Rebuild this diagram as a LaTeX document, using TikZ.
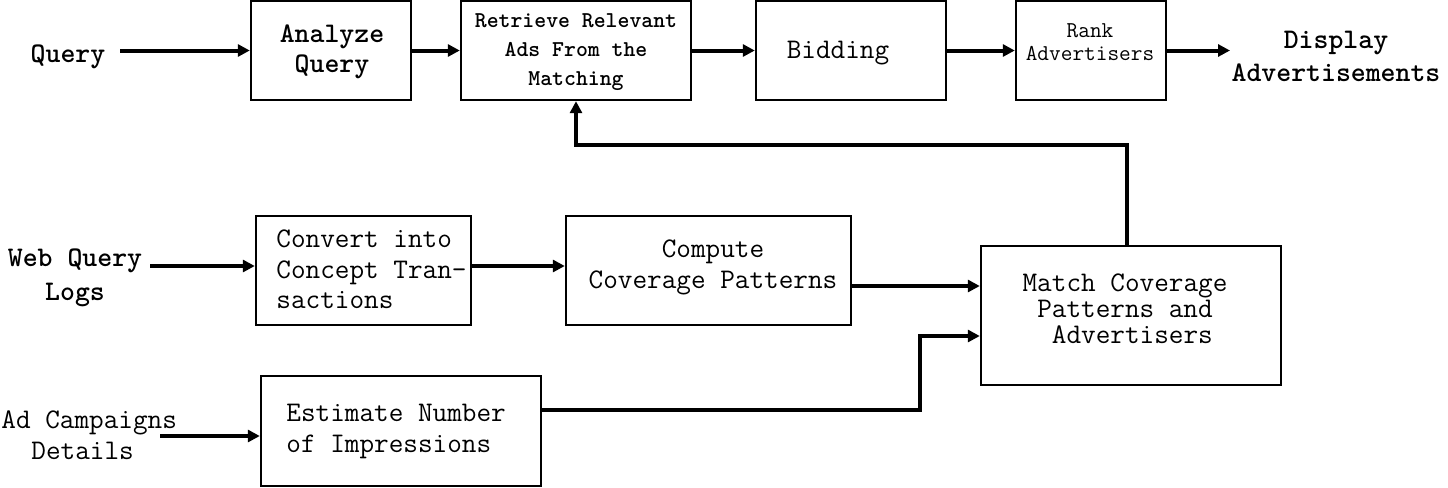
\documentclass[tikz,border=0pt]{standalone}
\usepackage{fontspec}
\usetikzlibrary{arrows.meta}
\tikzset{
  box/.style={draw, line width=1.2pt, inner sep=0pt},
  arr/.style={line width=2pt, -{Triangle[length=6pt,width=6pt]}},
  big/.style={font=\ttfamily\fontsize{14.2pt}{#1}\selectfont},
  big/.default=15.25pt,
  small/.style={font=\ttfamily\fontsize{11.33pt}{#1}\selectfont},
  small/.default=14.5pt,
  txt/.style={inner sep=0pt, align=center},
  ltxt/.style={inner sep=0pt, align=left, anchor=west}
}
\begin{document}
\begin{tikzpicture}[x=0.5pt,y=-0.5pt]
\useasboundingbox (0,0) rectangle (1448,488);
% boxes
\node[box, minimum width=160*0.5pt, minimum height=99*0.5pt] (aq) at (331,50.5) {};
\node[box, minimum width=230*0.5pt, minimum height=99*0.5pt] (ret) at (576,50.5) {};
\node[box, minimum width=190*0.5pt, minimum height=99*0.5pt] (bid) at (851,50.5) {};
\node[box, minimum width=150*0.5pt, minimum height=99*0.5pt] (rank) at (1091,50.5) {};
\node[box, minimum width=215*0.5pt, minimum height=109*0.5pt] (conv) at (363.5,270.5) {};
\node[box, minimum width=285*0.5pt, minimum height=109*0.5pt] (comp) at (708.5,270.5) {};
\node[box, minimum width=300*0.5pt, minimum height=139*0.5pt] (match) at (1131,315.5) {};
\node[box, minimum width=280*0.5pt, minimum height=110*0.5pt] (est) at (401,431) {};
% texts in boxes
\node[txt, big=15pt] (aqt) at (332,52) {\bfseries Analyze\\\bfseries Query};
\node[txt, small=14.5pt] (rett) at (576,52) {\bfseries Retrieve Relevant\\\bfseries Ads From the\\\bfseries Matching};
\node[txt, big] (bidt) at (838,53) {Bidding};
\node[txt, small=11.5pt] (rankt) at (1090,42.5) {Rank\hspace{6pt}\\Advertisers};
\node[ltxt, big=15.25pt] (convt) at (276,269.5) {Convert into\\Concept Tran-\\sactions};
\node[txt, big=15.5pt] (compt) at (713,267.5) {Compute\\Coverage Patterns};
\node[txt, big=13pt] (matcht) at (1125,309) {Match Coverage\\Patterns and\\\hphantom{x}Advertisers};
\node[ltxt, big=15.5pt] (estt) at (286,431.5) {Estimate Number\\of Impressions};
% outer labels
\node[txt, big] (query) at (68,57) {\bfseries Query};
\node[txt, big=16.5pt] (disp) at (1336,56) {\bfseries Display\\\bfseries Advertisements};
\node[txt, big=17pt] (web) at (75,278) {\bfseries Web Query\\\bfseries Logs};
\node[ltxt, big=15.5pt] (ad) at (1,435.5) {Ad Campaigns\\\hspace*{15pt}Details};
% coordinates
\coordinate (qin) at (120,50.5);
\coordinate (dout) at (1230,50.5);
\coordinate (win) at (150,266);
\coordinate (c1) at (851,286);
\coordinate (e1) at (541,410);
\coordinate (bend) at (920,336);
\coordinate (ain) at (160,436);
\coordinate (fb) at (1127,246);
% connectors
\draw[arr] (qin) -- (aq.west);
\draw[arr] (aq.east) -- (ret.west);
\draw[arr] (ret.east) -- (bid.west);
\draw[arr] (bid.east) -- (rank.west);
\draw[arr] (rank.east) -- (dout);
\draw[arr] (win) -- (win -| conv.west);
\draw[arr] (conv.east |- win) -- (win -| comp.west);
\draw[arr] (c1) -- (c1 -| match.west);
\draw[arr] (e1) -| (bend) -- (bend -| match.west);
\draw[arr] (ain) -- (ain -| est.west);
\draw[arr] (fb) -- ++(0,-101) -| (ret.south);
\end{tikzpicture}
\end{document}
